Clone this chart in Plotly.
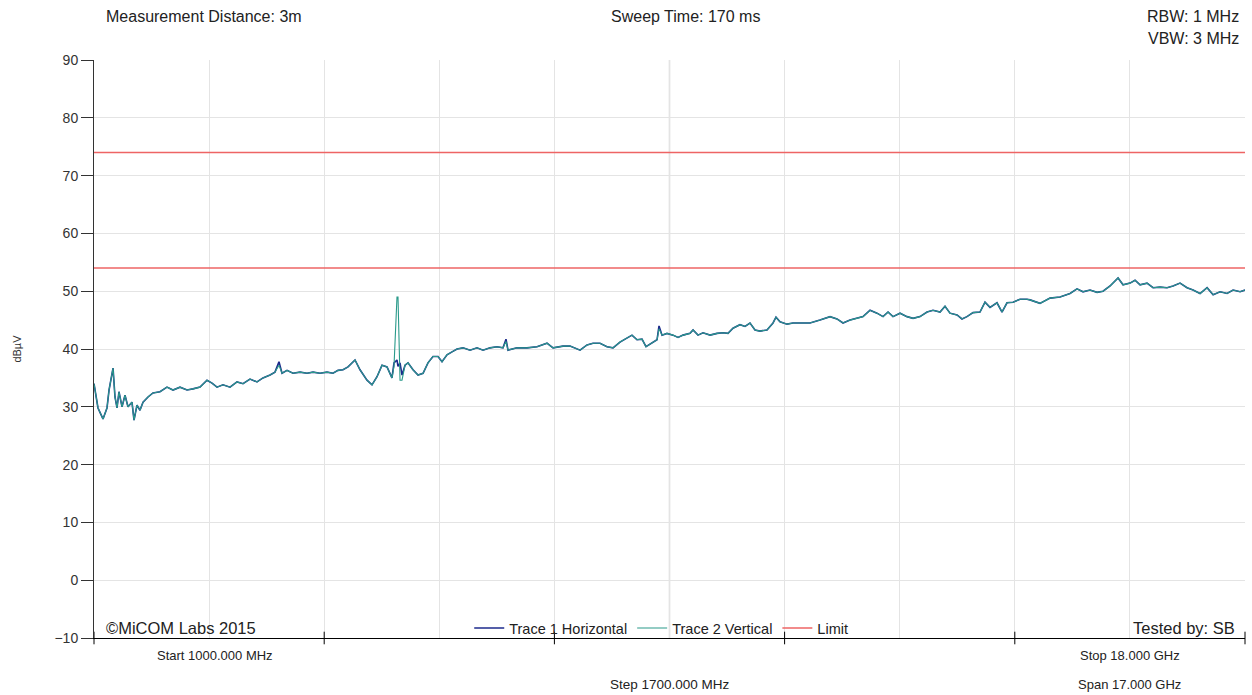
import plotly.graph_objects as go

# ---------------- data ----------------
freq_mhz = [
    1000, 1015, 1059, 1133, 1192, 1222, 1281, 1310, 1340, 1369, 1414, 1458, 1502, 1561, 1591,
    1635, 1679, 1724, 1798, 1871, 1975, 2078, 2167, 2270, 2374, 2462, 2566, 2669, 2743, 2817,
    2905, 3009, 3112, 3201, 3304, 3408, 3496, 3600, 3673, 3732, 3777, 3851, 3939, 4043, 4146,
    4235, 4338, 4441, 4530, 4604, 4678, 4752, 4855, 4929, 5032, 5106, 5180, 5254, 5328, 5401,
    5431, 5475, 5490, 5520, 5549, 5594, 5638, 5712, 5786, 5860, 5933, 6007, 6081, 6140, 6214,
    6288, 6362, 6451, 6554, 6657, 6746, 6849, 6952, 7041, 7085, 7115, 7248, 7395, 7543, 7691,
    7780, 7927, 8031, 8179, 8282, 8370, 8474, 8577, 8666, 8769, 8872, 8946, 9020, 9094, 9153,
    9242, 9316, 9345, 9390, 9463, 9552, 9626, 9700, 9803, 9848, 9921, 9995, 10099, 10202, 10290,
    10364, 10438, 10541, 10615, 10689, 10763, 10837, 10940, 11029, 11073, 11132, 11236, 11324, 11428, 11575,
    11723, 11871, 11974, 12063, 12166, 12270, 12358, 12462, 12565, 12654, 12728, 12801, 12905, 13008, 13097,
    13200, 13304, 13392, 13496, 13569, 13643, 13747, 13820, 13894, 13983, 14086, 14160, 14234, 14337, 14411,
    14485, 14574, 14677, 14780, 14825, 14972, 15120, 15268, 15416, 15519, 15608, 15711, 15815, 15903, 16007,
    16125, 16199, 16302, 16376, 16450, 16553, 16642, 16745, 16849, 16937, 17041, 17144, 17233, 17336, 17440,
    17529, 17632, 17735, 17824, 17927, 18000,
]

trace1_dbuv = [
    34.0, 32.9, 29.8, 27.9, 29.8, 32.9, 36.7, 31.7, 29.8, 32.6, 30.0, 32.0, 30.0, 30.8, 27.7,
    30.3, 29.4, 30.8, 31.7, 32.4, 32.6, 33.4, 32.9, 33.4, 32.9, 33.1, 33.4, 34.6, 34.1, 33.4,
    33.8, 33.4, 34.3, 34.0, 34.8, 34.3, 35.0, 35.5, 36.0, 37.8, 35.8, 36.3, 35.8, 36.0, 35.8,
    36.0, 35.8, 36.0, 35.8, 36.3, 36.4, 36.9, 38.1, 36.4, 34.6, 33.8, 35.2, 37.2, 36.9, 35.0,
    37.6, 38.1, 37.0, 37.6, 35.5, 37.2, 37.6, 36.4, 35.5, 35.8, 37.6, 38.7, 38.7, 37.8, 39.0,
    39.5, 40.0, 40.2, 39.8, 40.2, 39.8, 40.2, 40.4, 40.2, 41.7, 39.8, 40.2, 40.2, 40.4, 41.0,
    40.2, 40.5, 40.5, 39.8, 40.7, 41.0, 41.0, 40.4, 40.2, 41.2, 41.9, 42.4, 41.6, 41.7, 40.4,
    41.0, 41.6, 44.0, 42.4, 42.7, 42.4, 42.0, 42.4, 42.7, 43.3, 42.4, 42.8, 42.4, 42.7, 42.8,
    42.7, 43.6, 44.2, 43.9, 44.5, 43.3, 43.1, 43.3, 44.5, 45.5, 44.7, 44.3, 44.5, 44.5, 44.5,
    45.0, 45.6, 45.2, 44.5, 45.0, 45.3, 45.6, 46.7, 46.2, 45.6, 46.4, 45.6, 46.2, 45.6, 45.3,
    45.6, 46.4, 46.7, 46.4, 47.4, 46.2, 45.9, 45.2, 45.6, 46.3, 46.4, 48.1, 47.2, 48.0, 46.4,
    48.0, 48.1, 48.6, 48.6, 48.5, 47.9, 48.8, 49.0, 49.6, 50.4, 49.9, 50.2, 49.8, 50.0, 50.9,
    52.3, 51.1, 51.4, 51.9, 51.1, 51.4, 50.6, 50.7, 50.6, 50.9, 51.4, 50.6, 50.2, 49.6, 50.6,
    49.4, 49.9, 49.6, 50.2, 49.9, 50.2,
]

trace2_dbuv = [
    34.0, 32.9, 29.8, 27.9, 29.8, 32.9, 36.7, 31.7, 29.8, 32.6, 30.0, 32.0, 30.0, 30.8, 27.7,
    30.3, 29.4, 30.8, 31.7, 32.4, 32.6, 33.4, 32.9, 33.4, 32.9, 33.1, 33.4, 34.6, 34.1, 33.4,
    33.8, 33.4, 34.3, 34.0, 34.8, 34.3, 35.0, 35.5, 36.0, 37.2, 35.8, 36.3, 35.8, 36.0, 35.8,
    36.0, 35.8, 36.0, 35.8, 36.3, 36.4, 36.9, 38.1, 36.4, 34.6, 33.8, 35.2, 37.2, 36.9, 35.0,
    37.0, 49.0, 49.0, 34.6, 34.6, 37.2, 37.6, 36.4, 35.5, 35.8, 37.6, 38.7, 38.7, 37.8, 39.0,
    39.5, 40.0, 40.2, 39.8, 40.2, 39.8, 40.2, 40.4, 40.2, 41.3, 39.8, 40.2, 40.2, 40.4, 41.0,
    40.2, 40.5, 40.5, 39.8, 40.7, 41.0, 41.0, 40.4, 40.2, 41.2, 41.9, 42.4, 41.6, 41.7, 40.4,
    41.0, 41.6, 43.5, 42.4, 42.7, 42.4, 42.0, 42.4, 42.7, 43.3, 42.4, 42.8, 42.4, 42.7, 42.8,
    42.7, 43.6, 44.2, 43.9, 44.5, 43.3, 43.1, 43.3, 44.5, 45.5, 44.7, 44.3, 44.5, 44.5, 44.5,
    45.0, 45.6, 45.2, 44.5, 45.0, 45.3, 45.6, 46.7, 46.2, 45.6, 46.4, 45.6, 46.2, 45.6, 45.3,
    45.6, 46.4, 46.7, 46.4, 47.4, 46.2, 45.9, 45.2, 45.6, 46.3, 46.4, 48.1, 47.2, 48.0, 46.4,
    48.0, 48.1, 48.6, 48.6, 48.5, 47.9, 48.8, 49.0, 49.6, 50.4, 49.9, 50.2, 49.8, 50.0, 50.9,
    52.3, 51.1, 51.4, 51.9, 51.1, 51.4, 50.6, 50.7, 50.6, 50.9, 51.4, 50.6, 50.2, 49.6, 50.6,
    49.4, 49.9, 49.6, 50.2, 49.9, 50.2,
]

limit_levels = [74, 54]
start_mhz, stop_mhz = 1000, 18000
y_min, y_max = -10, 90
y_ticks = [-10, 0, 10, 20, 30, 40, 50, 60, 70, 80, 90]

# ---------------- figure ----------------
FONT = "Liberation Sans, Arial, sans-serif"
step = (stop_mhz - start_mhz) / 10
center = start_mhz + 5 * step

fig = go.Figure()

fig.add_trace(go.Scatter(
    x=freq_mhz, y=trace1_dbuv, mode="lines", name="Trace 1 Horizontal",
    line=dict(color="#1c2a8c", width=1.6),
))
fig.add_trace(go.Scatter(
    x=freq_mhz, y=trace2_dbuv, mode="lines", name="Trace 2 Vertical",
    line=dict(color="#2a9a8a", width=1.1),
))

lim_x, lim_y = [], []
for lv in limit_levels:
    lim_x += [start_mhz, stop_mhz, None]
    lim_y += [lv, lv, None]
fig.add_trace(go.Scatter(
    x=lim_x, y=lim_y, mode="lines", name="Limit",
    line=dict(color="#ee6464", width=1.5), connectgaps=False,
))

fig.add_vline(x=center, line=dict(color="#9a9a9a", width=1.2), layer="below")

fig.update_xaxes(
    range=[start_mhz, stop_mhz], showticklabels=False,
    tickmode="linear", tick0=start_mhz, dtick=step,
    showgrid=True, gridcolor="#e4e4e4", gridwidth=1,
    showline=True, linecolor="#000000", linewidth=1,
    zeroline=False, ticks="",
)
fig.update_yaxes(
    range=[y_min, y_max], tickvals=y_ticks,
    showgrid=True, gridcolor="#e4e4e4", gridwidth=1,
    showline=True, linecolor="#333333", linewidth=1,
    ticks="outside", ticklen=12, tickcolor="#333333",
    zeroline=False,
    tickfont=dict(family=FONT, size=14, color="#333333"),
    title=dict(text="dBµV", font=dict(family=FONT, size=11, color="#333333"), standoff=30),
)

ann = []
def add_text(text, x, y, xanchor="center", size=16, yanchor="middle"):
    ann.append(dict(text=text, x=x, y=y, xref="paper", yref="paper", showarrow=False,
                    xanchor=xanchor, yanchor=yanchor,
                    font=dict(family=FONT, size=size, color="#222222")))

add_text("Measurement Distance: 3m", 0.0087, 1.0744, xanchor="left")
add_text("Sweep Time: 170 ms", 0.5143, 1.0744)
add_text("RBW: 1 MHz", 0.9965, 1.0744, xanchor="right")
add_text("VBW: 3 MHz", 0.9965, 1.038, xanchor="right")
add_text("©MiCOM Labs 2015", 0.0087, 0.0173, xanchor="left", size=16.5)
add_text("Tested by: SB", 0.993, 0.0173, xanchor="right", size=16.5)
add_text("Start 1000.000 MHz", 0.105, -0.031, size=13)
add_text("Step 1700.000 MHz", 0.5, -0.081, size=13.5)
add_text("Stop 18.000 GHz", 0.9, -0.031, size=13)
add_text("Span 17.000 GHz", 0.9, -0.081, size=13)

fig.update_layout(
    width=1252, height=695,
    margin=dict(l=94, r=7, t=60, b=57),
    paper_bgcolor="white", plot_bgcolor="white",
    annotations=ann,
    showlegend=True,
    legend=dict(orientation="h", x=0.326, y=0.0173, xanchor="left", yanchor="middle",
                bgcolor="rgba(0,0,0,0)", font=dict(family=FONT, size=14.5, color="#222222"),
                itemwidth=30, tracegroupgap=0),
)

# bottom axis tick marks (every two grid steps)
fig.add_trace(go.Scatter(
    x=[start_mhz + k * step for k in range(0, 11, 2)],
    y=[y_min] * 6, mode="markers", showlegend=False, hoverinfo="skip",
    marker=dict(symbol="line-ns", size=9, line=dict(color="#000000", width=1)),
    cliponaxis=False,
))

fig.write_html(
    "out.html",
    config={"displayModeBar": False},
    post_script="document.body.style.margin='0';document.body.style.overflow='hidden';",
)
